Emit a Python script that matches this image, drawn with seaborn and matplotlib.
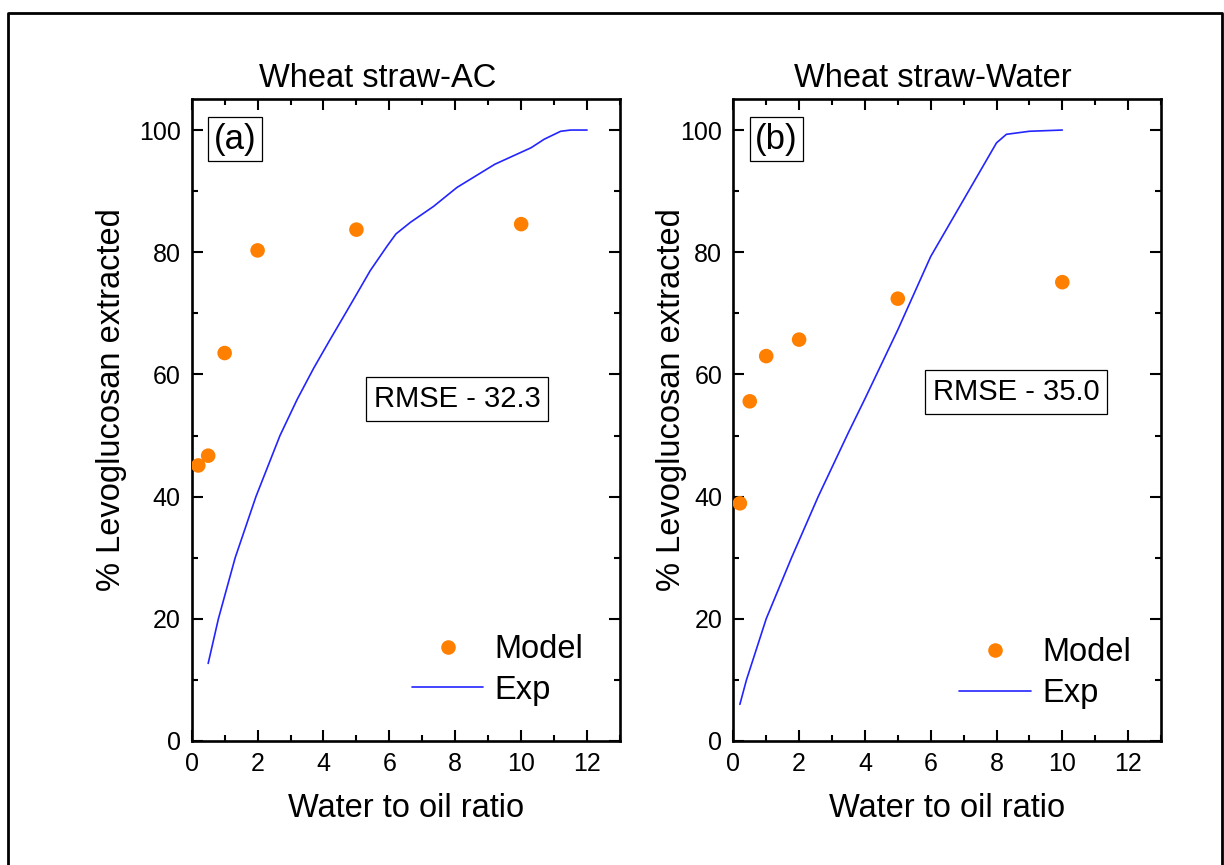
import matplotlib
matplotlib.use("Agg")
import matplotlib.pyplot as plt
from matplotlib.lines import Line2D
from matplotlib.ticker import MultipleLocator
import pandas as pd
import seaborn as sns

# model points (orange dots)
model_x = [0.2, 0.5, 1, 2, 5, 10]
model_ac = [45.1, 46.7, 63.5, 80.3, 83.7, 84.6]
model_water = [38.9, 55.6, 63.0, 65.7, 72.4, 75.1]

# experimental curves (blue lines)
exp_ac_x = [0.5, 0.81, 1.32, 1.95, 2.68, 3.2, 3.7, 4.2, 4.7, 5.12, 5.42, 5.93,
            6.2, 6.64, 7.34, 8.05, 9.2, 10.3, 10.7, 11.2, 11.5, 12.0]
exp_ac_y = [12.7, 20.0, 30.0, 40.0, 50.0, 55.9, 61.0, 65.7, 70.3, 74.2, 77.0,
            81.0, 83.0, 84.9, 87.5, 90.6, 94.4, 97.1, 98.5, 99.8, 100.0, 100.0]
exp_water_x = [0.2, 0.4, 1.0, 1.77, 2.58, 3.5, 4.0, 5.0, 6.0, 7.0, 8.0, 8.3,
               9.0, 10.0]
exp_water_y = [6.0, 10.0, 20.0, 30.0, 40.0, 50.5, 56.0, 67.3, 79.3, 88.6, 97.9,
               99.3, 99.8, 100.0]

titles = ["Wheat straw-AC", "Wheat straw-Water"]
title_x = [0.435, 0.467]
ylabel_x = [-0.152, -0.108]
tags = ["(a)", "(b)"]
rmse_labels = ["RMSE - 32.3", "RMSE - 35.0"]
rmse_pos = [(8.05, 56.0), (8.59, 57.1)]
legend_anchor = [(0.915, 0.055), (0.93, 0.05)]

sns.set_style("ticks")
plt.rcParams["font.family"] = ["Liberation Sans", "DejaVu Sans"]
plt.rcParams["text.color"] = "black"
plt.rcParams["axes.labelcolor"] = "black"
plt.rcParams["xtick.color"] = "black"
plt.rcParams["ytick.color"] = "black"

orange = "#ff8000"
blue = "#2424ff"

fig = plt.figure(figsize=(12.24, 8.65), dpi=100)
ax_a = fig.add_axes([191.7 / 1224, 1 - 741 / 865, 428.3 / 1224, 641.5 / 865])
ax_b = fig.add_axes([733.3 / 1224, 1 - 741 / 865, 427.7 / 1224, 641.5 / 865])

panels = [
    (ax_a, model_ac, exp_ac_x, exp_ac_y),
    (ax_b, model_water, exp_water_x, exp_water_y),
]

for i, (ax, model_y, ex, ey) in enumerate(panels):
    mdf = pd.DataFrame({"x": model_x, "y": model_y})
    edf = pd.DataFrame({"x": ex, "y": ey})
    sns.lineplot(data=edf, x="x", y="y", ax=ax, color=blue, lw=1.2,
                 estimator=None, sort=False, zorder=2)
    sns.scatterplot(data=mdf, x="x", y="y", ax=ax, color=orange, s=110,
                    edgecolor="none", zorder=3)

    ax.set_xlim(0, 13)
    ax.set_ylim(0, 105)
    ax.xaxis.set_major_locator(MultipleLocator(2))
    ax.xaxis.set_minor_locator(MultipleLocator(1))
    ax.yaxis.set_major_locator(MultipleLocator(20))
    ax.yaxis.set_minor_locator(MultipleLocator(10))
    ax.tick_params(which="both", direction="in", top=True, right=True,
                   width=1.5, color="black", labelcolor="black")
    ax.tick_params(which="major", length=8, labelsize=18, pad=8)
    ax.tick_params(which="minor", length=4.5)
    for sp in ax.spines.values():
        sp.set_visible(True)
        sp.set_linewidth(1.9)
        sp.set_color("black")

    ax.set_title(titles[i], fontsize=23.5, pad=9, x=title_x[i], color="black")
    ax.set_xlabel("Water to oil ratio", fontsize=23.5, labelpad=12)
    ax.set_ylabel("% Levoglucosan extracted", fontsize=23.5)
    ax.yaxis.set_label_coords(ylabel_x[i], 0.532)

    ax.text(1.31, 98.5, tags[i], fontsize=25, ha="center", va="center",
            bbox=dict(boxstyle="square,pad=0.16", fc="white", ec="black", lw=0.9))
    ax.text(*rmse_pos[i], rmse_labels[i], fontsize=21, ha="center", va="center",
            bbox=dict(boxstyle="square,pad=0.27", fc="white", ec="black", lw=0.9))

    handles = [
        Line2D([], [], ls="none", marker="o", ms=10.5, color=orange, mec="none"),
        Line2D([], [], color=blue, lw=1.2),
    ]
    ax.legend(handles, ["Model", "Exp"], loc="lower right",
              bbox_to_anchor=legend_anchor[i], frameon=False, fontsize=23.5,
              handlelength=2.2, handletextpad=0.35, labelspacing=0.3,
              borderpad=0, borderaxespad=0)

# outer frame (left, top, right)
fx0, fx1, fy1 = 8 / 1224, 1222 / 1224, 1 - 13 / 865
fig.add_artist(Line2D([fx0, fx0, fx1, fx1], [0, fy1, fy1, 0],
                      transform=fig.transFigure, color="black", lw=2))

fig.savefig("out.png", dpi=100)
